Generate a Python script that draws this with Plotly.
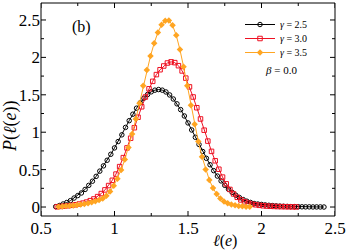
import plotly.graph_objects as go

# gamma = 2.5 (black circles)
x_g25 = [0.600, 0.625, 0.650, 0.675, 0.700, 0.725, 0.750, 0.775, 0.800, 0.825,
         0.850, 0.875, 0.900, 0.925, 0.950, 0.975, 1.000, 1.025, 1.050, 1.075,
         1.100, 1.125, 1.150, 1.175, 1.200, 1.225, 1.250, 1.275, 1.300, 1.325,
         1.350, 1.375, 1.400, 1.425, 1.450, 1.475, 1.500, 1.525, 1.550, 1.575,
         1.600, 1.625, 1.650, 1.675, 1.700, 1.725, 1.750, 1.775, 1.800, 1.825,
         1.850, 1.875, 1.900, 1.925, 1.950, 1.975, 2.000, 2.025, 2.050, 2.075,
         2.100, 2.125, 2.150, 2.175, 2.200, 2.225, 2.250, 2.275, 2.300, 2.325,
         2.350, 2.375, 2.400, 2.425]
y_g25 = [0.005, 0.020, 0.040, 0.060, 0.085, 0.120, 0.153, 0.188, 0.235, 0.290,
         0.345, 0.410, 0.480, 0.550, 0.625, 0.705, 0.790, 0.875, 0.965, 1.064,
         1.154, 1.241, 1.321, 1.393, 1.454, 1.504, 1.540, 1.562, 1.570, 1.562,
         1.538, 1.498, 1.444, 1.379, 1.302, 1.217, 1.124, 1.030, 0.932, 0.836,
         0.742, 0.651, 0.565, 0.486, 0.414, 0.349, 0.290, 0.239, 0.196, 0.158,
         0.126, 0.100, 0.078, 0.061, 0.047, 0.040, 0.034, 0.028, 0.023, 0.019,
         0.015, 0.012, 0.010, 0.008, 0.006, 0.005, 0.004, 0.003, 0.002, 0.002,
         0.001, 0.001, 0.001, 0.000]

# gamma = 3.0 (red squares)
x_g30 = [0.610, 0.635, 0.660, 0.685, 0.710, 0.735, 0.760, 0.785, 0.810, 0.835,
         0.860, 0.885, 0.910, 0.935, 0.960, 0.985, 1.010, 1.035, 1.060, 1.085,
         1.110, 1.135, 1.160, 1.185, 1.210, 1.235, 1.260, 1.285, 1.310, 1.335,
         1.360, 1.385, 1.410, 1.435, 1.460, 1.485, 1.510, 1.535, 1.560, 1.585,
         1.610, 1.635, 1.660, 1.685, 1.710, 1.735, 1.760, 1.785, 1.810, 1.835,
         1.860, 1.885, 1.910, 1.935, 1.960, 1.985, 2.010, 2.035, 2.060, 2.085,
         2.110, 2.135, 2.160, 2.185, 2.210, 2.235]
y_g30 = [0.003, 0.008, 0.012, 0.017, 0.023, 0.030, 0.040, 0.052, 0.066, 0.085,
         0.108, 0.139, 0.180, 0.229, 0.287, 0.357, 0.440, 0.540, 0.660, 0.790,
         0.920, 1.060, 1.200, 1.340, 1.470, 1.580, 1.680, 1.770, 1.835, 1.885,
         1.925, 1.940, 1.930, 1.889, 1.819, 1.723, 1.606, 1.471, 1.327, 1.177,
         1.027, 0.881, 0.744, 0.618, 0.505, 0.400, 0.310, 0.235, 0.175, 0.130,
         0.095, 0.070, 0.052, 0.038, 0.030, 0.023, 0.017, 0.013, 0.010, 0.008,
         0.006, 0.005, 0.004, 0.003, 0.002, 0.001]

# gamma = 3.5 (orange diamonds)
x_g35 = [0.620, 0.645, 0.670, 0.695, 0.720, 0.745, 0.770, 0.795, 0.820, 0.845,
         0.870, 0.895, 0.920, 0.945, 0.970, 0.995, 1.020, 1.045, 1.070, 1.095,
         1.120, 1.145, 1.170, 1.195, 1.220, 1.245, 1.270, 1.295, 1.320, 1.345,
         1.370, 1.395, 1.420, 1.445, 1.470, 1.495, 1.520, 1.545, 1.570, 1.595,
         1.620, 1.645, 1.670, 1.695, 1.720, 1.745, 1.770, 1.795, 1.820, 1.845,
         1.870, 1.895, 1.920]
y_g35 = [0.005, 0.008, 0.012, 0.016, 0.021, 0.027, 0.034, 0.042, 0.052, 0.064,
         0.078, 0.095, 0.115, 0.150, 0.209, 0.284, 0.379, 0.495, 0.634, 0.794,
         0.976, 1.176, 1.387, 1.620, 1.830, 2.020, 2.190, 2.333, 2.436, 2.491,
         2.494, 2.428, 2.295, 2.105, 1.875, 1.621, 1.360, 1.108, 0.876, 0.673,
         0.501, 0.362, 0.254, 0.173, 0.115, 0.075, 0.050, 0.034, 0.023, 0.015,
         0.009, 0.005, 0.002]

labels = ["<i>γ</i> = 2.5", "<i>γ</i> = 3.0", "<i>γ</i> = 3.5"]

# tick positions
x_major = [0.5, 1.0, 1.5, 2.0, 2.5]
x_minor = [0.75, 1.25, 1.75, 2.25]
y_major = [0.0, 0.5, 1.0, 1.5, 2.0, 2.5]
y_minor = [0.25, 0.75, 1.25, 1.75, 2.25]

SERIF = "Times New Roman, Liberation Serif, serif"
W, H = 346, 252
ML, MR, MT, MB = 41, 11, 3, 36
PW, PH = W - ML - MR, H - MT - MB
X_RANGE = [0.5, 2.5]
Y_RANGE = [-0.12, 2.727]
MAJ, MIN = 5, 3  # tick lengths in px

fig = go.Figure()
fig.add_trace(go.Scatter(
    x=x_g25, y=y_g25, mode="lines+markers", name=labels[0], legend="legend",
    line=dict(color="black", width=1),
    marker=dict(symbol="circle-open", size=4.5, color="black", line=dict(width=1)),
))
fig.add_trace(go.Scatter(
    x=x_g30, y=y_g30, mode="lines+markers", name=labels[1], legend="legend2",
    line=dict(color="#ee1122", width=1),
    marker=dict(symbol="square-open", size=4.5, color="#ee1122", line=dict(width=1)),
))
fig.add_trace(go.Scatter(
    x=x_g35, y=y_g35, mode="lines+markers", name=labels[2], legend="legend3",
    line=dict(color="#ffa522", width=1),
    marker=dict(symbol="diamond", size=5, color="#ffa522"),
))

main_axis = dict(
    showline=False, ticks="", showgrid=False, zeroline=False,
    tickfont=dict(family=SERIF, size=17, color="black"),
)

# frame and inside ticks (mirrored on all four sides)
tick_style = dict(color="black", width=1)
shapes = [dict(type="rect", xref="paper", yref="paper", x0=0, y0=0, x1=1, y1=1,
               line=tick_style, layer="above")]
for vals, ln in ((x_major, MAJ), (x_minor, MIN)):
    for v in vals:
        shapes.append(dict(type="line", xref="x", yref="paper", x0=v, x1=v,
                           y0=0, y1=ln / PH, line=tick_style, layer="above"))
        shapes.append(dict(type="line", xref="x", yref="paper", x0=v, x1=v,
                           y0=1, y1=1 - ln / PH, line=tick_style, layer="above"))
for vals, ln in ((y_major, MAJ), (y_minor, MIN)):
    for v in vals:
        shapes.append(dict(type="line", xref="paper", yref="y", y0=v, y1=v,
                           x0=0, x1=ln / PW, line=tick_style, layer="above"))
        shapes.append(dict(type="line", xref="paper", yref="y", y0=v, y1=v,
                           x0=1, x1=1 - ln / PW, line=tick_style, layer="above"))


def px_to_paper(px, py):
    return ((px - ML) / PW, ((H - MB) - py) / PH)


bx, by = px_to_paper(281, 70)
lx, ly = px_to_paper(225, 241)
yx, yy = px_to_paper(10, 126)


def legend_box(top_px):
    gx, gy = px_to_paper(240, top_px)
    return dict(
        x=gx, y=gy, xanchor="left", yanchor="top",
        font=dict(family=SERIF, size=10, color="black"),
        bgcolor="rgba(0,0,0,0)", itemwidth=30, tracegroupgap=0,
    )


fig.update_layout(
    width=W, height=H,
    margin=dict(l=ML, r=MR, t=MT, b=MB, autoexpand=False),
    paper_bgcolor="white", plot_bgcolor="white",
    font=dict(family=SERIF, color="black"),
    xaxis=dict(range=X_RANGE, tickmode="array", tickvals=x_major,
               ticktext=["0.5", "1", "1.5", "2", "2.5"], **main_axis),
    yaxis=dict(range=Y_RANGE, tickmode="array", tickvals=y_major,
               ticktext=["0", "0.5", "1", "1.5", "2", "2.5"], **main_axis),
    showlegend=True,
    legend=legend_box(10),
    legend2=legend_box(24),
    legend3=legend_box(38),
    shapes=shapes,
    annotations=[
        dict(text="(b)", x=0.775, y=2.40, xref="x", yref="y", showarrow=False,
             xanchor="center", yanchor="middle",
             font=dict(family=SERIF, size=16, color="black")),
        dict(text="<i>β</i> = 0.0", x=bx, y=by, xref="paper", yref="paper",
             xanchor="center", yanchor="middle",
             showarrow=False, font=dict(family=SERIF, size=11, color="black")),
        dict(text="<i>ℓ</i>(<i>e</i>)", x=lx, y=ly, xref="paper", yref="paper",
             xanchor="center", yanchor="middle",
             showarrow=False, font=dict(family=SERIF, size=16, color="black")),
        dict(text="<i>P</i>(<i>ℓ</i>(<i>e</i>))", x=yx, y=yy, xref="paper", yref="paper",
             xanchor="center", yanchor="middle",
             textangle=-90, showarrow=False, font=dict(family=SERIF, size=18, color="black")),
    ],
)

fig.write_html(
    "out.html",
    config={"displayModeBar": False},
    post_script="document.body.style.margin='0';document.body.style.overflow='hidden';",
)
